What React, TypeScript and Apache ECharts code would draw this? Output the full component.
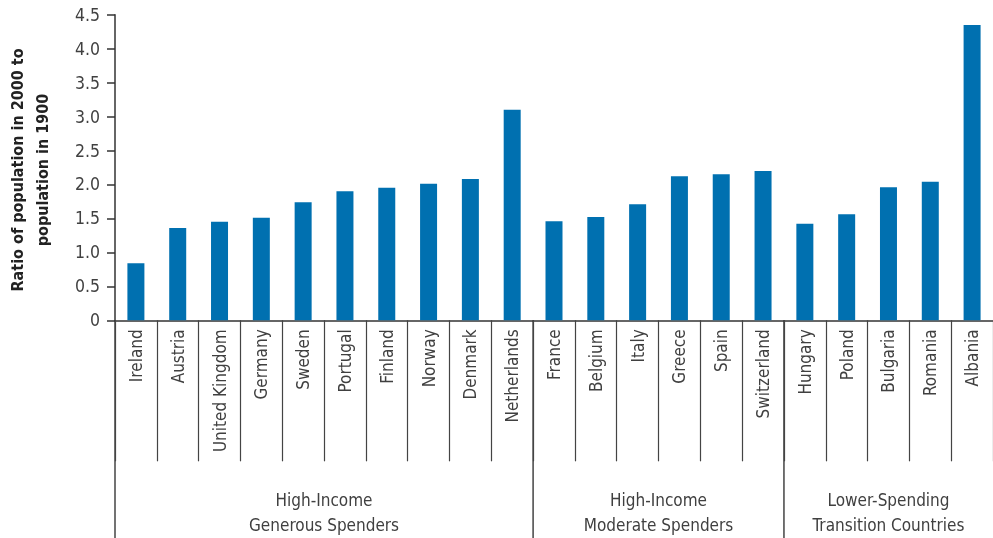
import React, { useEffect, useRef } from "react";
import * as echarts from "echarts";

const categories = [
  "Ireland", "Austria", "United Kingdom", "Germany", "Sweden", "Portugal", "Finland",
  "Norway", "Denmark", "Netherlands", "France", "Belgium", "Italy", "Greece", "Spain",
  "Switzerland", "Hungary", "Poland", "Bulgaria", "Romania", "Albania",
];
const values = [
  0.84, 1.36, 1.45, 1.51, 1.74, 1.9, 1.95, 2.01, 2.08, 3.1, 1.46, 1.52, 1.71, 2.12,
  2.15, 2.2, 1.42, 1.56, 1.96, 2.04, 4.35,
];
const groupNames = [
  "High-Income\nGenerous Spenders",
  "High-Income\nModerate Spenders",
  "Lower-Spending\nTransition Countries",
];
const groupStarts = [0, 10, 16];
const groupEnds = [10, 16, 21];
const yTitle = "Ratio of population in 2000 to\npopulation in 1900";

const FONT = '"Liberation Sans Narrow", "DejaVu Sans Condensed", "Roboto", sans-serif';
const TEXT = "#404040";
const AXIS = "#333333";

export default function App() {
  const ref = useRef<HTMLDivElement>(null);
  useEffect(() => {
    const chart = echarts.init(ref.current!, null, { renderer: "svg" });
    chart.setOption({
      animation: false,
      grid: { left: 115, top: 14.7, width: 887, height: 305.6, containLabel: false },
      xAxis: {
        type: "category",
        data: categories,
        axisLine: { lineStyle: { color: AXIS, width: 1.5 } },
        axisTick: { show: true, length: 141, interval: 0, lineStyle: { color: "#444", width: 1.2 } },
        axisLabel: {
          interval: 0,
          rotate: 90,
          margin: 9,
          fontFamily: FONT,
          fontSize: 17,
          color: TEXT,
        },
      },
      yAxis: {
        type: "value",
        min: 0,
        max: 4.5,
        interval: 0.5,
        splitLine: { show: false },
        axisLine: { show: true, lineStyle: { color: AXIS, width: 1.5 } },
        axisTick: { show: true, length: 8, lineStyle: { color: AXIS, width: 1.5 } },
        axisLabel: {
          margin: 15,
          fontFamily: FONT,
          fontSize: 17.5,
          color: TEXT,
          formatter: (v: number) => (v === 0 ? "0" : v.toFixed(1)),
        },
      },
      series: [
        {
          type: "bar",
          data: values,
          barWidth: 17,
          itemStyle: { color: "#0070B0" },
        },
      ],
    });

    const c0 = chart.convertToPixel({ xAxisIndex: 0 }, categories[0]) as number;
    const c1 = chart.convertToPixel({ xAxisIndex: 0 }, categories[1]) as number;
    const band = c1 - c0;
    const y0 = chart.convertToPixel({ yAxisIndex: 0 }, 0) as number;
    const boundary = (i: number) => c0 - band / 2 + i * band;

    const graphics: any[] = [];
    groupStarts.forEach((s, gi) => {
      const x = boundary(s);
      graphics.push({
        type: "line",
        shape: { x1: x, y1: y0, x2: x, y2: 538 },
        style: { stroke: "#444", lineWidth: 1.5 },
      });
      const cx = (boundary(s) + boundary(groupEnds[gi])) / 2;
      graphics.push({
        type: "text",
        x: cx,
        y: 512,
        style: {
          text: groupNames[gi],
          align: "center",
          verticalAlign: "middle",
          fontFamily: FONT,
          fontSize: 17,
          lineHeight: 25,
          fill: TEXT,
        },
      });
    });
    graphics.push({
      type: "text",
      x: 29.5,
      y: 170,
      rotation: Math.PI / 2,
      style: {
        text: yTitle,
        align: "center",
        verticalAlign: "middle",
        fontFamily: FONT,
        fontSize: 16,
        fontWeight: "bold",
        lineHeight: 25,
        fill: "#222",
      },
    });
    chart.setOption({ graphic: graphics });

    return () => chart.dispose();
  }, []);
  return (
    <div
      ref={ref}
      style={{ position: "fixed", left: 0, top: 0, width: 993, height: 538 }}
    />
  );
}
